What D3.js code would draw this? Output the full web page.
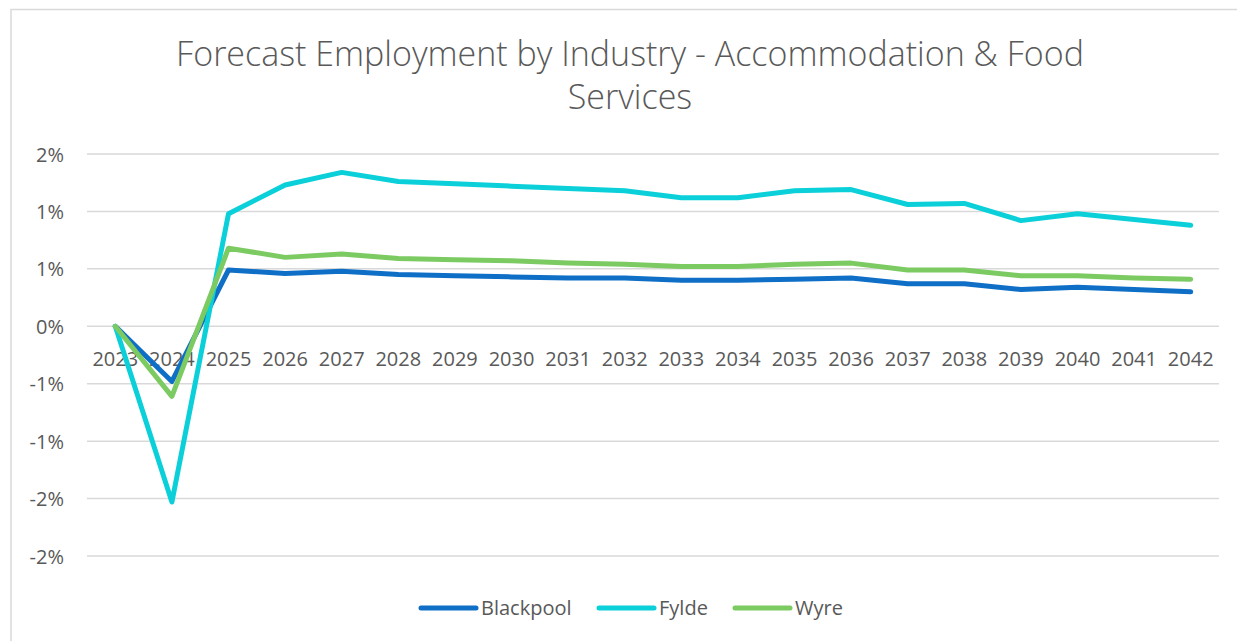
<!DOCTYPE html>
<html>
<head>
<meta charset="utf-8">
<script src="https://cdn.jsdelivr.net/npm/d3@7"></script>
<style>
  html, body { margin: 0; padding: 0; background: #ffffff; }
  svg { display: block; }
  text { font-family: "Open Sans", "Noto Sans", sans-serif; fill: #595959; }
</style>
</head>
<body>
<svg id="chart" width="1237" height="641"></svg>
<script>
// Year-on-year change in employment, Accommodation & Food Services
const years = ["2023","2024","2025","2026","2027","2028","2029","2030","2031","2032",
               "2033","2034","2035","2036","2037","2038","2039","2040","2041","2042"];

const blackpool = [0, -0.0048, 0.0049, 0.0046, 0.0048, 0.0045, 0.0044, 0.0043, 0.0042, 0.0042,
                   0.0040, 0.0040, 0.0041, 0.0042, 0.0037, 0.0037, 0.0032, 0.0034, 0.0032, 0.0030];
const fylde     = [0, -0.0153, 0.0098, 0.0123, 0.0134, 0.0126, 0.0124, 0.0122, 0.0120, 0.0118,
                   0.0112, 0.0112, 0.0118, 0.0119, 0.0106, 0.0107, 0.0092, 0.0098, 0.0093, 0.0088];
const wyre      = [0, -0.0061, 0.0068, 0.0060, 0.0063, 0.0059, 0.0058, 0.0057, 0.0055, 0.0054,
                   0.0052, 0.0052, 0.0054, 0.0055, 0.0049, 0.0049, 0.0044, 0.0044, 0.0042, 0.0041];

const seriesNames  = ["Blackpool", "Fylde", "Wyre"];
const seriesColors = ["#0f6fc6", "#0bd0d9", "#7cca62"];

const yTickValues = [-0.02, -0.015, -0.01, -0.005, 0, 0.005, 0.01, 0.015];
const yTickLabels = ["-2%", "-2%", "-1%", "-1%", "0%", "1%", "1%", "2%"];

const titleLines = ["Forecast Employment by Industry - Accommodation & Food", "Services"];

const series = [blackpool, fylde, wyre].map((values, i) => ({
  name: seriesNames[i],
  color: seriesColors[i],
  values: values.map((v, j) => ({ year: years[j], value: v }))
}));

const svg = d3.select("#chart");

// outer frame of the chart area
svg.append("rect")
  .attr("x", 11).attr("y", 9.5)
  .attr("width", 1240).attr("height", 650)
  .attr("fill", "#ffffff")
  .attr("stroke", "#d9d9d9").attr("stroke-width", 1.5);

const x = d3.scaleBand().domain(years).range([87, 1219]).padding(0);
const y = d3.scaleLinear().domain([-0.02, 0.015]).range([556, 154]);

// horizontal gridlines
svg.append("g")
  .selectAll("line")
  .data(yTickValues)
  .join("line")
  .attr("x1", 87).attr("x2", 1219)
  .attr("y1", d => y(d)).attr("y2", d => y(d))
  .attr("stroke", "#d9d9d9").attr("stroke-width", 1.5);

// y axis labels
const yAxis = d3.axisLeft(y)
  .tickValues(yTickValues)
  .tickSize(0)
  .tickPadding(0)
  .tickFormat((d, i) => yTickLabels[i]);
const yg = svg.append("g").attr("transform", "translate(64,0)").call(yAxis);
yg.select(".domain").remove();
yg.selectAll("text")
  .attr("font-size", 20)
  .attr("font-family", null)
  .attr("fill", "#595959")
  .attr("dy", "0.35em");

// x axis labels, sitting just below the zero line
const xAxis = d3.axisBottom(x).tickSize(0).tickPadding(0);
const xg = svg.append("g").attr("transform", `translate(0,${y(0)})`).call(xAxis);
xg.select(".domain").remove();
xg.selectAll("text")
  .attr("font-size", 20)
  .attr("font-family", null)
  .attr("fill", "#595959")
  .attr("dy", null)
  .attr("y", 40);

// series lines
const line = d3.line()
  .x(d => x(d.year) + x.bandwidth() / 2)
  .y(d => y(d.value));

svg.append("g")
  .selectAll("path")
  .data(series)
  .join("path")
  .attr("d", d => line(d.values))
  .attr("fill", "none")
  .attr("stroke", d => d.color)
  .attr("stroke-width", 5)
  .attr("stroke-linecap", "round")
  .attr("stroke-linejoin", "round");

// title
svg.append("g")
  .selectAll("text")
  .data(titleLines)
  .join("text")
  .attr("x", 630)
  .attr("y", (d, i) => 66 + i * 43)
  .attr("text-anchor", "middle")
  .attr("font-size", 34)
  .attr("font-weight", 300)
  .text(d => d);

// legend
const legendX = [421, 599, 735];
const lg = svg.append("g")
  .selectAll("g")
  .data(series)
  .join("g")
  .attr("transform", (d, i) => `translate(${legendX[i]},608)`);
lg.append("line")
  .attr("x1", 0).attr("x2", 55)
  .attr("stroke", d => d.color)
  .attr("stroke-width", 5)
  .attr("stroke-linecap", "round");
lg.append("text")
  .attr("x", 60)
  .attr("dy", "0.35em")
  .attr("font-size", 20)
  .text(d => d.name);
</script>
</body>
</html>
